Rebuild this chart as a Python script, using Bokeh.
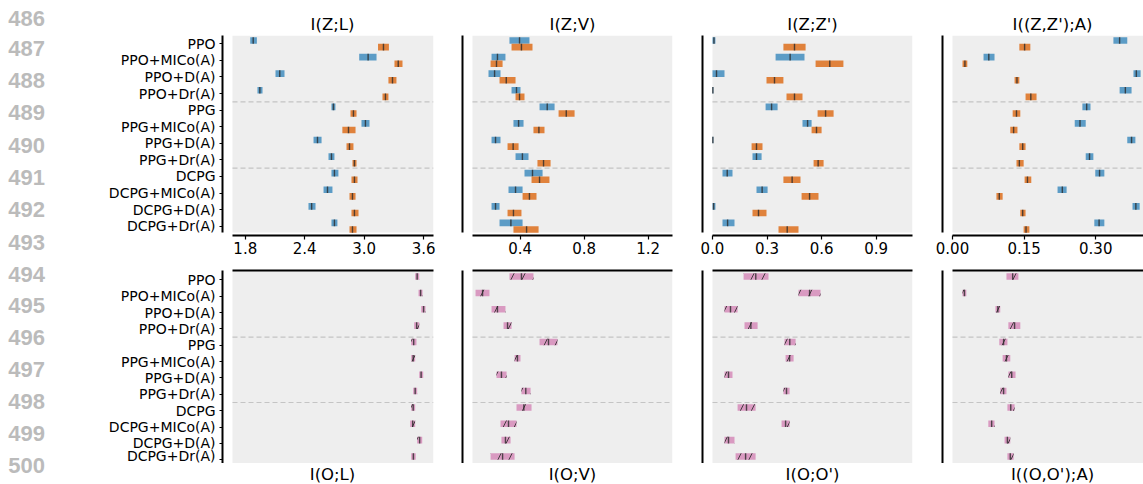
from bokeh.plotting import figure
from bokeh.models import Range1d, FixedTicker, NumeralTickFormatter, BoxAnnotation
from bokeh.layouts import row, column
from bokeh.embed import file_html
from bokeh.resources import INLINE
from bokeh.core.properties import value

# ---------------- data ----------------
methods = ["PPO", "PPO+MICo(A)", "PPO+D(A)", "PPO+Dr(A)",
           "PPG", "PPG+MICo(A)", "PPG+D(A)", "PPG+Dr(A)",
           "DCPG", "DCPG+MICo(A)", "DCPG+D(A)", "DCPG+Dr(A)"]
line_numbers = [str(n) for n in range(486, 501)]

top_titles = ["I(Z;L)", "I(Z;V)", "I(Z;Z')", "I((Z,Z');A)"]
bottom_titles = ["I(O;L)", "I(O;V)", "I(O;O')", "I((O,O');A)"]
x_ticks = [[1.8, 2.4, 3.0, 3.6], [0.4, 0.8, 1.2], [0.0, 0.3, 0.6, 0.9], [0.0, 0.15, 0.30]]
x_formats = ["0.0", "0.0", "0.0", "0.00"]
x_limits = [(1.671, 3.70), (0.102, 1.352), (0.0, 1.10), (0.0, 0.40)]

# I(Z;L)
zl_blue_lo = [1.85, 2.95, 2.105, 1.923, 2.67, 2.973, 2.489, 2.64, 2.67, 2.59, 2.438, 2.67]
zl_blue_med = [1.88, 3.04, 2.148, 1.947, 2.69, 3.013, 2.529, 2.67, 2.70, 2.63, 2.47, 2.70]
zl_blue_hi = [1.917, 3.125, 2.196, 1.974, 2.71, 3.054, 2.57, 2.70, 2.74, 2.68, 2.509, 2.73]
zl_orange_lo = [3.14, 3.306, 3.245, 3.185, 2.862, 2.78, 2.822, 2.882, 2.872, 2.852, 2.872, 2.852]
zl_orange_med = [3.195, 3.344, 3.286, 3.215, 2.892, 2.842, 2.852, 2.902, 2.902, 2.882, 2.902, 2.882]
zl_orange_hi = [3.25, 3.387, 3.326, 3.245, 2.923, 2.913, 2.892, 2.923, 2.933, 2.913, 2.943, 2.923]

# I(Z;V)
zv_blue_lo = [0.333, 0.221, 0.202, 0.346, 0.521, 0.358, 0.221, 0.371, 0.427, 0.327, 0.221, 0.271]
zv_blue_med = [0.396, 0.258, 0.24, 0.377, 0.569, 0.39, 0.246, 0.414, 0.477, 0.371, 0.246, 0.342]
zv_blue_hi = [0.458, 0.308, 0.277, 0.402, 0.615, 0.421, 0.277, 0.452, 0.54, 0.415, 0.271, 0.415]
zv_orange_lo = [0.346, 0.215, 0.271, 0.371, 0.64, 0.483, 0.321, 0.508, 0.471, 0.415, 0.321, 0.358]
zv_orange_med = [0.408, 0.252, 0.313, 0.396, 0.688, 0.517, 0.356, 0.546, 0.521, 0.458, 0.358, 0.44]
zv_orange_hi = [0.477, 0.29, 0.371, 0.427, 0.74, 0.552, 0.39, 0.59, 0.583, 0.502, 0.408, 0.515]

# I(Z;Z')
zz_blue_lo = [0.0, 0.347, 0.0, 0.0, 0.292, 0.495, 0.0, 0.22, 0.055, 0.242, 0.0, 0.055]
zz_blue_med = [0.008, 0.427, 0.022, 0.002, 0.325, 0.523, 0.002, 0.242, 0.081, 0.273, 0.006, 0.083]
zz_blue_hi = [0.016, 0.506, 0.066, 0.005, 0.358, 0.545, 0.005, 0.27, 0.11, 0.303, 0.016, 0.121]
zz_orange_lo = [0.39, 0.567, 0.297, 0.407, 0.578, 0.545, 0.215, 0.556, 0.39, 0.49, 0.22, 0.363]
zz_orange_med = [0.451, 0.645, 0.341, 0.451, 0.622, 0.572, 0.242, 0.581, 0.438, 0.534, 0.253, 0.411]
zz_orange_hi = [0.512, 0.72, 0.39, 0.495, 0.666, 0.6, 0.275, 0.611, 0.484, 0.583, 0.297, 0.473]

# I((Z,Z');A)
za_blue_lo = [0.337, 0.065, 0.379, 0.35, 0.272, 0.256, 0.366, 0.279, 0.299, 0.22, 0.377, 0.297]
za_blue_med = [0.35, 0.076, 0.385, 0.362, 0.281, 0.267, 0.375, 0.287, 0.308, 0.23, 0.384, 0.307]
za_blue_hi = [0.366, 0.088, 0.394, 0.375, 0.289, 0.279, 0.383, 0.295, 0.318, 0.239, 0.392, 0.318]
za_orange_lo = [0.14, 0.021, 0.13, 0.153, 0.126, 0.121, 0.14, 0.134, 0.151, 0.092, 0.142, 0.149]
za_orange_med = [0.151, 0.026, 0.135, 0.164, 0.134, 0.128, 0.147, 0.14, 0.157, 0.098, 0.147, 0.154]
za_orange_hi = [0.163, 0.031, 0.14, 0.176, 0.142, 0.136, 0.153, 0.149, 0.165, 0.105, 0.153, 0.161]

# bottom row
ol_lo = [3.515, 3.549, 3.576, 3.505, 3.475, 3.475, 3.556, 3.495, 3.475, 3.465, 3.535, 3.475]
ol_med = [3.535, 3.57, 3.6, 3.53, 3.5, 3.495, 3.575, 3.515, 3.495, 3.49, 3.56, 3.497]
ol_hi = [3.556, 3.589, 3.619, 3.556, 3.528, 3.515, 3.596, 3.535, 3.515, 3.515, 3.586, 3.52]

ov_lo = [0.333, 0.121, 0.221, 0.296, 0.521, 0.365, 0.252, 0.408, 0.377, 0.277, 0.283, 0.215]
ov_med = [0.408, 0.165, 0.258, 0.321, 0.577, 0.383, 0.283, 0.435, 0.423, 0.327, 0.308, 0.29]
ov_hi = [0.483, 0.208, 0.308, 0.346, 0.633, 0.402, 0.315, 0.465, 0.471, 0.377, 0.34, 0.365]

oo_lo = [0.171, 0.473, 0.066, 0.176, 0.396, 0.402, 0.066, 0.39, 0.138, 0.38, 0.066, 0.127]
oo_med = [0.238, 0.534, 0.099, 0.211, 0.425, 0.424, 0.088, 0.407, 0.187, 0.402, 0.088, 0.182]
oo_hi = [0.308, 0.594, 0.138, 0.248, 0.457, 0.446, 0.11, 0.424, 0.237, 0.424, 0.121, 0.237]

oa_lo = [0.113, 0.021, 0.09, 0.117, 0.098, 0.105, 0.117, 0.1, 0.115, 0.075, 0.109, 0.115]
oa_med = [0.126, 0.025, 0.095, 0.13, 0.107, 0.113, 0.124, 0.107, 0.122, 0.082, 0.115, 0.121]
oa_hi = [0.138, 0.029, 0.1, 0.142, 0.115, 0.121, 0.132, 0.113, 0.13, 0.088, 0.121, 0.128]

top_series = [
    ((zl_blue_lo, zl_blue_med, zl_blue_hi), (zl_orange_lo, zl_orange_med, zl_orange_hi)),
    ((zv_blue_lo, zv_blue_med, zv_blue_hi), (zv_orange_lo, zv_orange_med, zv_orange_hi)),
    ((zz_blue_lo, zz_blue_med, zz_blue_hi), (zz_orange_lo, zz_orange_med, zz_orange_hi)),
    ((za_blue_lo, za_blue_med, za_blue_hi), (za_orange_lo, za_orange_med, za_orange_hi)),
]
bottom_series = [(ol_lo, ol_med, ol_hi), (ov_lo, ov_med, ov_hi),
                 (oo_lo, oo_med, oo_hi), (oa_lo, oa_med, oa_hi)]

# ---------------- style / layout ----------------
BLUE = "#5c9cc6"
ORANGE = "#e0823c"
PINK = "#d99ac1"
GREY_BG = "#eeeeee"
SEP = "#c4c4c4"
MED = "#2b2b2b"
FONT = "DejaVu Sans"

FIG_W = [388, 240, 240, 215]
MB_L = [162, 14, 14, 14]
MB_R = [15, 16, 16, 0]
GAP = 10
GREY_W = 200
NUM_W = 60
TOP_STRIP_H = 34
TOP_H = 226
TOP_MB_TOP = 1
TOP_MB_BOT = 25
BOT_H = 203
BOT_MB_TOP = 10
BOT_STRIP_H = 21
TOTAL_H = TOP_STRIP_H + TOP_H + BOT_H + BOT_STRIP_H
line_y = [18, 47.7, 79.5, 112.3, 144.7, 177, 209, 241.5,
          273.8, 305, 337, 369, 401, 433, 464.7]

n = len(methods)
pos = [n - 1 - i for i in range(n)]


def base_fig(j, top):
    x0, x1 = x_limits[j]
    fw = FIG_W[j] - MB_L[j] - MB_R[j]
    pad = GAP * (x1 - x0) / (fw - GAP)
    if top:
        y_frame_lo, y_grey_lo, y_hi = -0.56, -0.38, 11.5
    else:
        y_frame_lo, y_grey_lo, y_hi = -0.23, -0.23, 11.57
    p = figure(width=FIG_W[j], height=TOP_H if top else BOT_H,
               x_range=Range1d(x0 - pad, x1), y_range=Range1d(y_frame_lo, y_hi),
               x_axis_location="below" if top else "above",
               output_backend="svg", toolbar_location=None,
               min_border_left=MB_L[j], min_border_right=MB_R[j],
               min_border_top=TOP_MB_TOP if top else BOT_MB_TOP,
               min_border_bottom=TOP_MB_BOT if top else 0,
               background_fill_color="white", border_fill_color="white",
               outline_line_color=None)
    p.xgrid.visible = False
    p.ygrid.visible = False
    p.add_layout(BoxAnnotation(left=x0, right=x1, bottom=y_grey_lo, top=y_hi,
                               fill_color=GREY_BG, fill_alpha=1.0,
                               line_color=None, level="image"))
    p.segment(x0=[x0, x0], x1=[x1, x1], y0=[pos[3] - 0.5, pos[7] - 0.5],
              y1=[pos[3] - 0.5, pos[7] - 0.5], line_color=SEP, line_width=1.2,
              line_dash="5 3", level="underlay")

    xa = p.xaxis[0]
    xa.bounds = (x0, x1)
    xa.axis_line_width = 2
    xa.axis_line_color = "black"
    xa.minor_tick_line_color = None
    if top:
        xa.ticker = FixedTicker(ticks=x_ticks[j])
        xa.formatter = NumeralTickFormatter(format=x_formats[j])
        xa.major_tick_out = 4
        xa.major_tick_in = 0
        xa.major_tick_line_width = 1.2
        xa.major_label_text_font = FONT
        xa.major_label_text_font_size = "15px"
        xa.major_label_text_color = "black"
        xa.major_label_standoff = 2
    else:
        xa.ticker = FixedTicker(ticks=[])
        xa.major_tick_out = 0
        xa.major_tick_in = 0

    ya = p.yaxis[0]
    ya.bounds = (y_grey_lo, y_hi)
    ya.axis_line_width = 2
    ya.axis_line_color = "black"
    ya.minor_tick_line_color = None
    if j == 0:
        ya.ticker = FixedTicker(ticks=pos)
        ya.major_label_overrides = {pos[i]: methods[i] for i in range(n)}
        ya.major_tick_out = 3
        ya.major_tick_in = 0
        ya.major_tick_line_width = 1.2
        ya.major_label_text_font = FONT
        ya.major_label_text_font_size = "14px"
        ya.major_label_text_color = "black"
        ya.major_label_standoff = 4
    else:
        ya.ticker = FixedTicker(ticks=[])
        ya.major_tick_out = 0
        ya.major_tick_in = 0
    return p


def add_bars(p, lo, med, hi, dy, color, hatch=False):
    ys = [v + dy for v in pos]
    kw = dict(y=ys, left=lo, right=hi, height=0.4, fill_color=color,
              fill_alpha=1.0, line_color=None)
    if hatch:
        kw.update(hatch_pattern="/", hatch_color="#2a2a2a", hatch_alpha=0.85,
                  hatch_scale=22, hatch_weight=1.0)
    p.hbar(**kw)
    p.segment(x0=med, x1=med, y0=[y - 0.2 for y in ys], y1=[y + 0.2 for y in ys],
              line_color=MED, line_alpha=0.8, line_width=1.4)


tops = []
for j in range(4):
    p = base_fig(j, True)
    (b_lo, b_med, b_hi), (o_lo, o_med, o_hi) = top_series[j]
    add_bars(p, b_lo, b_med, b_hi, 0.2, BLUE)
    add_bars(p, o_lo, o_med, o_hi, -0.2, ORANGE)
    tops.append(p)

bots = []
for j in range(4):
    p = base_fig(j, False)
    lo, med, hi = bottom_series[j]
    add_bars(p, lo, med, hi, 0.2, PINK, hatch=True)
    bots.append(p)

# strips holding the panel titles (centred over the grey data areas)
strip_w = sum(FIG_W)
fig_left = [sum(FIG_W[:k]) for k in range(4)]
title_x = [fig_left[k] + MB_L[k] + GAP + GREY_W / 2 for k in range(4)]


def title_strip(h, yc, texts):
    s = figure(width=strip_w, height=h, x_range=Range1d(0, strip_w),
               y_range=Range1d(h, 0), x_axis_type=None, y_axis_type=None,
               output_backend="svg", toolbar_location=None, min_border=0,
               outline_line_color=None, background_fill_color="white",
               border_fill_color="white")
    s.text(x=title_x, y=[yc] * len(texts), text=texts, text_font=value(FONT),
           text_font_size="16.5px", text_color="black", text_align="center",
           text_baseline="middle")
    return s


top_strip = title_strip(TOP_STRIP_H, 23.5, top_titles)
bot_strip = title_strip(BOT_STRIP_H, 10.5, bottom_titles)

nf = figure(width=NUM_W, height=TOTAL_H, x_range=Range1d(0, NUM_W),
            y_range=Range1d(TOTAL_H, 0), x_axis_type=None,
            y_axis_type=None, output_backend="svg", toolbar_location=None,
            min_border=0, outline_line_color=None, background_fill_color="white",
            border_fill_color="white")
nf.text(x=[44.5] * len(line_numbers), y=line_y, text=line_numbers,
        text_font=value("Liberation Sans"), text_font_style="bold",
        text_font_size="22px", text_color="#bbbbbb", text_align="right",
        text_baseline="middle")

layout = row(nf, column(top_strip, row(*tops), row(*bots), bot_strip))
open("out.html", "w").write(file_html(layout, INLINE))
